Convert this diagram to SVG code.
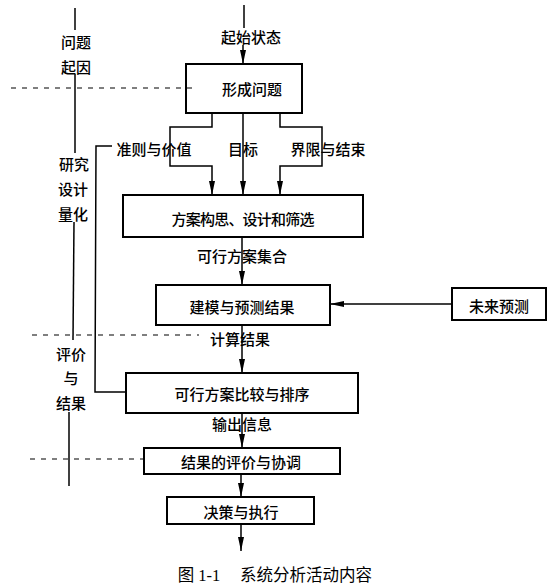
<svg xmlns="http://www.w3.org/2000/svg" width="553" height="587" viewBox="0 0 553 587">
<defs>
<marker id="ahw" viewBox="0 0 14 10" refX="14" refY="5" markerWidth="14" markerHeight="10" markerUnits="userSpaceOnUse" orient="auto">
<path d="M0,2 L14,5 L0,8 Z" fill="#000"/>
</marker>
<style>
text{font-family:"Noto Sans CJK SC","Liberation Sans",sans-serif;font-size:15px;font-weight:500;fill:#000;text-anchor:middle;dominant-baseline:central}
.box{fill:#fff;stroke:#000;stroke-width:2}
.ln{fill:none;stroke:#000;stroke-width:1.5}
.arr{fill:none;stroke:#000;stroke-width:1.5;marker-end:url(#ahw)}
.dash{fill:none;stroke:#000;stroke-width:1.2;stroke-dasharray:5 6}
.cap{font-family:"Liberation Serif","Noto Sans CJK SC",serif;font-size:16.5px;font-weight:normal}
</style>
</defs>
<rect width="553" height="587" fill="#fff"/>

<g id="side">
<line class="ln" x1="75" y1="8" x2="75" y2="30"/>
<text x="76" y="41">问题</text>
<text x="76" y="66">起因</text>
<line class="ln" x1="75" y1="74" x2="75" y2="153"/>
<text x="74" y="163">研究</text>
<text x="73" y="188">设计</text>
<text x="73" y="213">量化</text>
<line class="ln" x1="74" y1="222" x2="73" y2="340"/>
<text x="71" y="353">评价</text>
<text x="71" y="377">与</text>
<text x="71" y="402">结果</text>
<line class="ln" x1="69" y1="412" x2="69" y2="486"/>
</g>

<g id="connectors">
<line class="ln" x1="244" y1="5" x2="244" y2="28"/>
<line class="arr" x1="243" y1="45" x2="243" y2="64"/>
<line class="arr" x1="243" y1="113" x2="243" y2="195"/>
<polyline class="arr" points="212,113 212,127 170,127 170,166 212,166 212,195"/>
<polyline class="arr" points="280,113 280,127 322,127 322,166 280,166 280,195"/>
<polyline class="ln" points="112,146 96,146 95,392 126,392"/>
<line class="arr" x1="242" y1="237" x2="242" y2="285"/>
<line class="arr" x1="452" y1="304" x2="330" y2="304"/>
<line class="arr" x1="242" y1="325" x2="242" y2="373"/>
<line class="arr" x1="242" y1="413" x2="242" y2="448"/>
<line class="arr" x1="241" y1="474" x2="241" y2="497"/>
<line class="arr" x1="241" y1="524" x2="241" y2="551"/>
</g>

<g id="labels">
<text x="251" y="36">起始状态</text>
<text x="154" y="148">准则与价值</text>
<text x="243" y="148">目标</text>
<text x="328" y="148">界限与结束</text>
<text x="242" y="255">可行方案集合</text>
<text x="240" y="338">计算结果</text>
<text x="242" y="423">输出信息</text>
</g>

<g id="n1"><rect class="box" x="186" y="64" width="116" height="49"/><text x="252" y="88">形成问题</text></g>
<g id="n2"><rect class="box" x="123" y="195" width="240" height="42"/><text x="243" y="218" textLength="143" lengthAdjust="spacing">方案构思、设计和筛选</text></g>
<g id="n3"><rect class="box" x="156" y="285" width="174" height="40"/><text x="242" y="306">建模与预测结果</text></g>
<g id="n4"><rect class="box" x="452" y="288" width="94" height="32"/><text x="499" y="305">未来预测</text></g>
<g id="n5"><rect class="box" x="126" y="373" width="232" height="40"/><text x="242" y="393">可行方案比较与排序</text></g>
<g id="n6"><rect class="box" x="144" y="448" width="196" height="26"/><text x="241" y="461">结果的评价与协调</text></g>
<g id="n7"><rect class="box" x="167" y="497" width="147" height="27"/><text x="241" y="511">决策与执行</text></g>

<g id="dividers">
<line class="dash" x1="11" y1="88" x2="197" y2="88"/>
<line class="dash" x1="32" y1="335" x2="199" y2="335"/>
<line class="dash" x1="30" y1="459" x2="144" y2="459"/>
</g>

<g id="caption">
<text class="cap" x="199" y="575">图 1-1</text>
<text class="cap" x="306" y="575">系统分析活动内容</text>
</g>
</svg>
